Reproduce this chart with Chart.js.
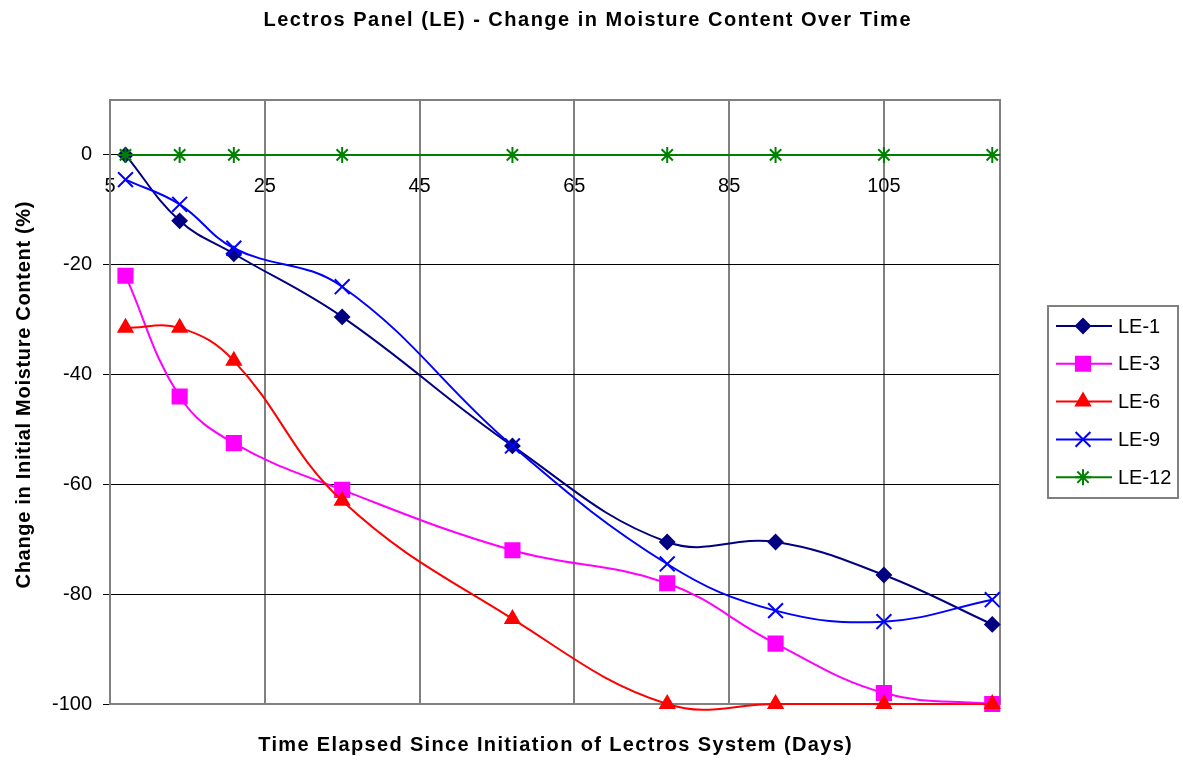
<!DOCTYPE html>
<html>
<head>
<meta charset="utf-8">
<script src="https://cdn.jsdelivr.net/npm/chart.js@4/dist/chart.umd.min.js"></script>
<style>
    html, body { margin: 0; padding: 0; background: #fff; }
    #wrap { width: 1183px; height: 760px; }
</style>
</head>
<body>
<div id="wrap"><canvas id="chartLE"></canvas></div>
<script>
// ==================================================
// DATA
// ==================================================
const days = [7, 14, 21, 35, 57, 77, 91, 105, 119];
const le1 = [0, -12, -18, -29.5, -53, -70.5, -70.5, -76.5, -85.5];
const le3 = [-22, -44, -52.5, -61, -72, -78, -89, -98, -100];
const le6 = [-31.5, -31.5, -37.5, -63, -84.5, -100, -100, -100, -100];
const le9 = [-4.5, -9, -17, -24, -53, -74.5, -83, -85, -81];
const le12 = [0, 0, 0, 0, 0, 0, 0, 0, 0];

const seriesNames = ['LE-1', 'LE-3', 'LE-6', 'LE-9', 'LE-12'];
const xTicks = [5, 25, 45, 65, 85, 105];
const yTicks = [-100, -80, -60, -40, -20, 0];

const FONT = "'Liberation Sans', Arial, sans-serif";

// ==================================================
// STYLES
// ==================================================
const styles = [
    { color: '#000080', pointStyle: 'rectRot', radius: 7 },
    { color: '#FF00FF', pointStyle: 'rect', radius: 10 },
    { color: '#FF0000', pointStyle: 'triangle', radius: 8 },
    { color: '#0000FF', pointStyle: 'crossRot', radius: 10.5 },
    { color: '#008000', pointStyle: 'star', radius: 8 },
];

const toPoints = vals => vals.map((v, i) => ({ x: days[i], y: v }));
const allSeries = [le1, le3, le6, le9, le12];

const datasets = allSeries.map((vals, i) => ({
    label: seriesNames[i],
    data: toPoints(vals),
    borderColor: styles[i].color,
    backgroundColor: styles[i].color,
    pointBackgroundColor: styles[i].color,
    pointBorderColor: styles[i].color,
    pointStyle: styles[i].pointStyle,
    pointRadius: styles[i].radius,
    pointBorderWidth: 2,
    borderWidth: 2,
    tension: 0.4,
    clip: false,
    order: 5 - i,
}));

// ==================================================
// PLUGINS — plot border, titles, boxed legend
// ==================================================
function spacedText(ctx, text, x, y, spacing) {
    ctx.letterSpacing = spacing + 'px';
    ctx.fillText(text, x + spacing / 2, y);
    ctx.letterSpacing = '0px';
}

const framePlugin = {
    id: 'frame',
    beforeDatasetsDraw(chart) {
        const { ctx, chartArea: a } = chart;
        ctx.save();
        ctx.strokeStyle = '#808080';
        ctx.lineWidth = 2;
        ctx.strokeRect(a.left, a.top, a.right - a.left, a.bottom - a.top);
        ctx.restore();
    },
    afterDraw(chart) {
        const { ctx } = chart;
        ctx.save();
        ctx.fillStyle = '#000';
        ctx.textAlign = 'center';
        ctx.textBaseline = 'middle';
        ctx.font = `bold 20px ${FONT}`;

        // chart title
        spacedText(ctx, 'Lectros Panel (LE) - Change in Moisture Content Over Time', 587, 20, 1.5);
        // x axis title
        spacedText(ctx, 'Time Elapsed Since Initiation of Lectros System (Days)', 555, 745, 1.35);
        // y axis title
        ctx.save();
        ctx.translate(24, 395);
        ctx.rotate(-Math.PI / 2);
        spacedText(ctx, 'Change in Initial Moisture Content (%)', 0, 0, 0.7);
        ctx.restore();

        // legend
        ctx.strokeStyle = '#808080';
        ctx.lineWidth = 2;
        ctx.strokeRect(1048, 306, 130, 192);
        ctx.textAlign = 'left';
        ctx.font = `20px ${FONT}`;
        seriesNames.forEach((name, i) => {
            const y = 326 + i * 37.8;
            const st = styles[i];
            ctx.strokeStyle = st.color;
            ctx.fillStyle = st.color;
            ctx.lineWidth = 2;
            ctx.beginPath();
            ctx.moveTo(1056, y);
            ctx.lineTo(1112, y);
            ctx.stroke();
            Chart.helpers.drawPoint(ctx, { pointStyle: st.pointStyle, radius: st.radius, rotation: 0, borderWidth: 2 }, 1083, y);
            ctx.fillStyle = '#000';
            ctx.fillText(name, 1118, y + 1);
        });
        ctx.restore();
    },
};

// ==================================================
// CHART
// ==================================================
new Chart(document.getElementById('chartLE'), {
    type: 'line',
    data: { datasets },
    options: {
        responsive: true,
        maintainAspectRatio: false,
        animation: false,
        layout: { padding: { left: 0, right: 183, bottom: 56, top: 100 } },
        elements: { line: { capBezierPoints: false } },
        plugins: {
            legend: { display: false },
            tooltip: { enabled: false },
            title: { display: false },
        },
        scales: {
            x: {
                type: 'linear',
                position: { y: 0 },
                min: 5,
                max: 120,
                afterBuildTicks: axis => { axis.ticks = xTicks.map(v => ({ value: v })); },
                afterFit: scale => { scale.height = 0; },
                grid: { color: '#808080', lineWidth: 2, drawTicks: false },
                border: { display: true, color: '#000', width: 1 },
                ticks: { color: '#000', font: { family: FONT, size: 20 }, padding: 20, maxRotation: 0, autoSkip: false },
            },
            y: {
                type: 'linear',
                position: 'left',
                min: -100,
                max: 10,
                afterBuildTicks: axis => { axis.ticks = yTicks.map(v => ({ value: v })); },
                afterFit: scale => { scale.width = 110; },
                grid: { color: '#000', lineWidth: 1, tickLength: 7 },
                border: { display: false },
                ticks: { color: '#000', font: { family: FONT, size: 20 }, padding: 11 },
                title: { display: false },
            },
        },
    },
    plugins: [framePlugin],
});
</script>
</body>
</html>
